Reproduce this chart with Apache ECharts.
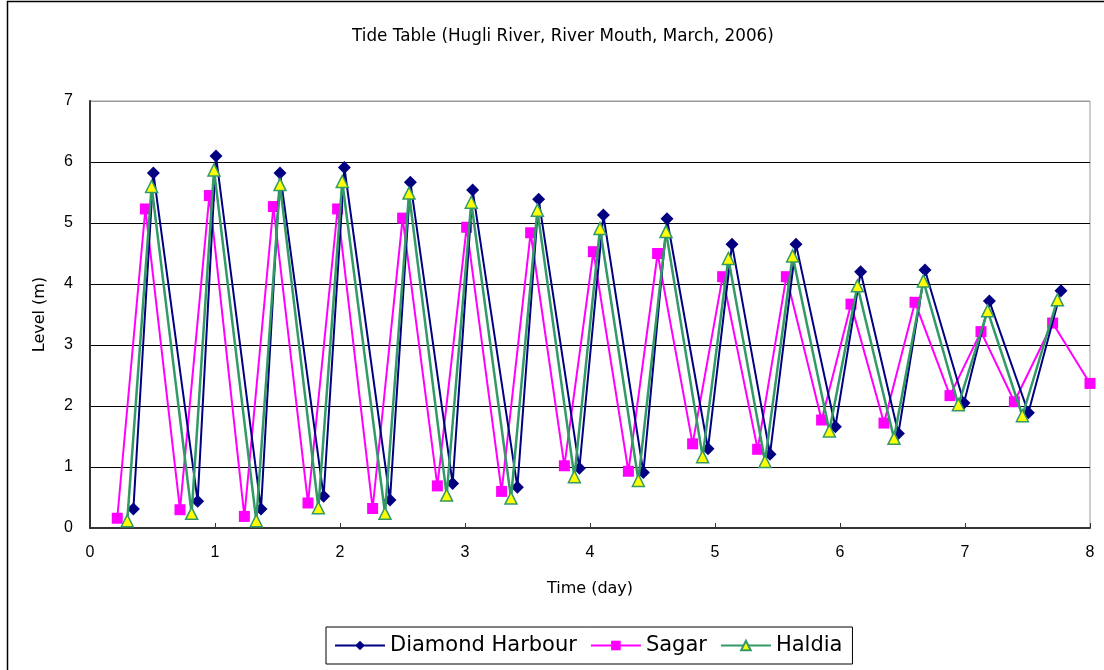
<!DOCTYPE html>
<html>
<head>
<meta charset="utf-8">
<script src="https://cdn.jsdelivr.net/npm/echarts@6/dist/echarts.min.js"></script>
<style>html,body{margin:0;padding:0;background:#fff;}#chart{width:1104px;height:670px;}</style>
</head>
<body>
<div id="chart"></div>
<script>
const titleText = 'Tide Table (Hugli River, River Mouth, March, 2006)';
const xName = 'Time (day)';
const yName = 'Level (m)';
const seriesNames = ['Diamond Harbour', 'Sagar', 'Haldia'];

const dhTime = [0.347,0.507,0.861,1.008,1.368,1.52,1.869,2.035,2.40,2.563,2.901,3.061,3.419,3.589,3.915,4.107,4.427,4.616,4.944,5.136,5.44,5.648,5.963,6.165,6.467,6.68,6.992,7.195,7.507,7.768];
const dhLevel = [0.31,5.82,0.44,6.10,0.31,5.82,0.52,5.91,0.46,5.67,0.73,5.54,0.67,5.39,0.98,5.13,0.91,5.07,1.30,4.65,1.21,4.65,1.66,4.20,1.55,4.23,2.05,3.72,1.89,3.89];

const sagarTime = [0.218,0.443,0.72,0.955,1.235,1.467,1.744,1.981,2.261,2.501,2.779,3.013,3.293,3.525,3.795,4.027,4.307,4.541,4.821,5.061,5.341,5.571,5.853,6.088,6.352,6.60,6.88,7.128,7.395,7.701,8.0];
const sagarLevel = [0.16,5.23,0.30,5.45,0.19,5.27,0.41,5.23,0.32,5.08,0.69,4.93,0.60,4.84,1.02,4.53,0.93,4.50,1.38,4.12,1.29,4.12,1.77,3.67,1.72,3.70,2.17,3.22,2.07,3.36,2.37];

const haldiaTime = [0.298,0.493,0.813,0.992,1.33,1.52,1.827,2.018,2.36,2.552,2.853,3.05,3.368,3.579,3.875,4.08,4.387,4.608,4.901,5.107,5.40,5.621,5.915,6.139,6.432,6.667,6.947,7.181,7.459,7.739];
const haldiaLevel = [0.12,5.60,0.24,5.87,0.12,5.63,0.33,5.68,0.24,5.49,0.54,5.34,0.49,5.21,0.84,4.91,0.78,4.86,1.17,4.42,1.09,4.46,1.59,3.97,1.47,4.05,2.02,3.56,1.84,3.74];

const xTicks = [0,1,2,3,4,5,6,7,8];
const yTicks = [0,1,2,3,4,5,6,7];

function pairs(xs, ys){ return xs.map((x,i)=>[x, ys[i]]); }

const chart = echarts.init(document.getElementById('chart'), null, {renderer:'canvas'});
const labelFont = '"Liberation Sans", Arial, sans-serif';
const txtFont = '"DejaVu Sans", sans-serif';

chart.setOption({
  animation: false,
  backgroundColor: '#fff',
  title: {
    text: titleText,
    left: 352,
    top: 28,
    padding: 0,
    textStyle: {fontFamily: txtFont, fontSize: 16.8, fontWeight: 'normal', color: '#000'}
  },
  graphic: [{
    type: 'rect', silent: true, z: -1,
    shape: {x: 7.5, y: 1.5, width: 1200, height: 800},
    style: {fill: 'none', stroke: '#000', lineWidth: 1.5}
  }],
  legend: {
    data: seriesNames,
    left: 326, top: 627,
    padding: [8, 10, 8, 8],
    itemGap: 13,
    itemWidth: 50, itemHeight: 12,
    borderColor: '#000', borderWidth: 1,
    textStyle: {fontFamily: txtFont, fontSize: 21, color: '#000'}
  },
  grid: {
    left: 90, right: 14, top: 101, bottom: 142,
    show: true, borderColor: '#999', borderWidth: 1, backgroundColor: 'transparent'
  },
  xAxis: {
    type: 'value', min: xTicks[0], max: xTicks[xTicks.length-1], interval: 1,
    name: xName, nameLocation: 'middle', nameGap: 53,
    nameTextStyle: {fontFamily: txtFont, fontSize: 16, color: '#000'},
    axisLine: {show: true, lineStyle: {color: '#333', width: 2}},
    axisTick: {show: true, inside: true, length: 5, lineStyle: {color: '#333'}},
    axisLabel: {fontFamily: labelFont, fontSize: 16, color: '#000', margin: 17},
    splitLine: {show: false}
  },
  yAxis: {
    type: 'value', min: yTicks[0], max: yTicks[yTicks.length-1], interval: 1,
    name: yName, nameLocation: 'middle', nameGap: 42, nameRotate: 90,
    nameTextStyle: {fontFamily: txtFont, fontSize: 16, color: '#000'},
    axisLine: {show: true, lineStyle: {color: '#333', width: 2}},
    axisTick: {show: false},
    axisLabel: {fontFamily: labelFont, fontSize: 16, color: '#000', margin: 17},
    splitLine: {show: true, lineStyle: {color: ['#000','#000','#000','#000','#000','#000','#000','#999'], width: 1}}
  },
  series: [
    {
      name: seriesNames[0], type: 'line', data: pairs(dhTime, dhLevel),
      symbol: 'diamond', symbolSize: 13, z: 3,
      lineStyle: {color: '#000080', width: 2},
      itemStyle: {color: '#000080'}
    },
    {
      name: seriesNames[1], type: 'line', data: pairs(sagarTime, sagarLevel),
      symbol: 'rect', symbolSize: 11, z: 2,
      lineStyle: {color: '#FF00FF', width: 2},
      itemStyle: {color: '#FF00FF'}
    },
    {
      name: seriesNames[2], type: 'line', data: pairs(haldiaTime, haldiaLevel),
      symbol: 'triangle', symbolSize: 12, z: 4,
      lineStyle: {color: '#339966', width: 2.5},
      itemStyle: {color: '#FFFF00', borderColor: '#339966', borderWidth: 1.5}
    }
  ]
});
</script>
</body>
</html>
